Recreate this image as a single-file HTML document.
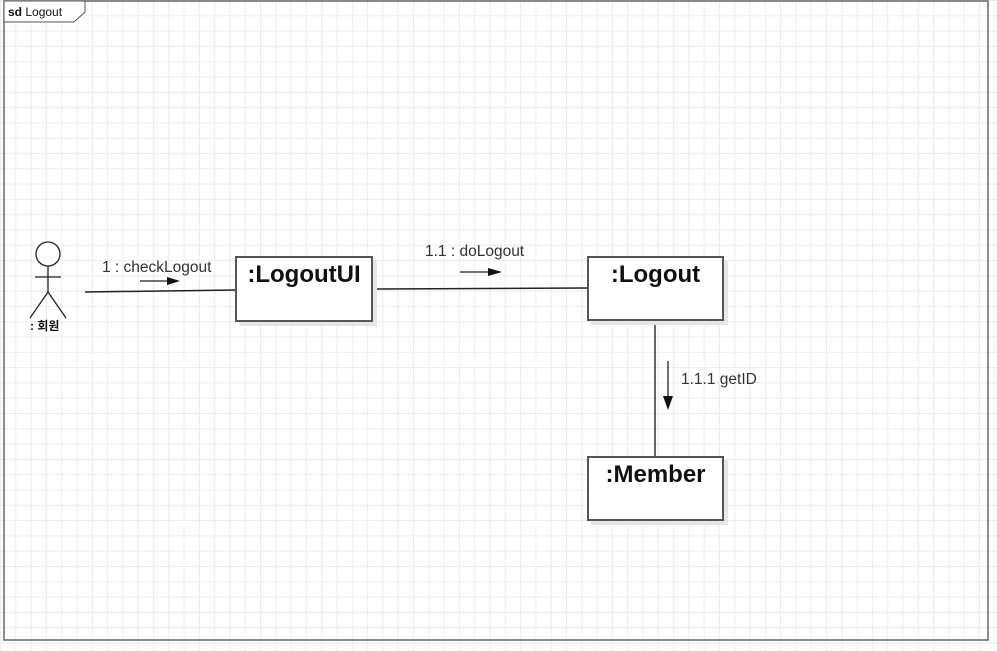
<!DOCTYPE html>
<html><head><meta charset="utf-8"><style>
html,body{margin:0;padding:0;}
body{width:997px;height:651px;position:relative;overflow:hidden;background:#fff;
background-image:linear-gradient(#ececec 1px,transparent 1px),linear-gradient(90deg,#ececec 1px,transparent 1px);
background-size:15.3px 15.3px;background-position:0 0;font-family:"Liberation Sans",Arial,sans-serif;}
.box{position:absolute;border:2px solid #555;background:#fff;box-shadow:4px 4px 0 #e6e6e6;box-sizing:border-box;text-align:center;font-weight:bold;font-size:24px;color:#111;}
.lbl{position:absolute;font-size:15.5px;color:#333;}
</style></head><body>
<svg width="997" height="651" style="position:absolute;left:0;top:0">
<rect x="4" y="1" width="984" height="639" fill="none" stroke="#666" stroke-width="1.5"/>
<path d="M4 1 H85 V12 L74 22 H4 Z" fill="#fff" stroke="#555" stroke-width="1"/>
<text x="8" y="16" font-size="12" font-family="Liberation Sans" fill="#111"><tspan font-weight="bold">sd</tspan> Logout</text>
<circle cx="48" cy="254" r="12" fill="#fff" stroke="#222" stroke-width="1.3"/>
<line x1="48" y1="266" x2="48" y2="292" stroke="#222" stroke-width="1.3"/>
<line x1="35" y1="277" x2="61" y2="277" stroke="#222" stroke-width="1.3"/>
<line x1="48" y1="292" x2="30" y2="318" stroke="#222" stroke-width="1.3"/>
<line x1="48" y1="292" x2="66" y2="318" stroke="#222" stroke-width="1.3"/>
<text x="30" y="330" font-size="12" font-weight="bold" font-family="Liberation Sans,Noto Sans CJK KR,sans-serif" fill="#111">: 회원</text>
<line x1="85" y1="292" x2="236" y2="290" stroke="#222" stroke-width="1.5"/>
<line x1="373" y1="289" x2="588" y2="288" stroke="#222" stroke-width="1.5"/>
<line x1="655" y1="320" x2="655" y2="457" stroke="#333" stroke-width="1.5"/>
<line x1="140" y1="281" x2="170" y2="281" stroke="#222" stroke-width="1.3"/>
<path d="M167 277 L180 281 L167 285 Z" fill="#111"/>
<line x1="460" y1="272" x2="490" y2="272" stroke="#222" stroke-width="1.3"/>
<path d="M488 268 L502 272 L488 276 Z" fill="#111"/>
<line x1="668" y1="361" x2="668" y2="398" stroke="#222" stroke-width="1.3"/>
<path d="M663 396 L668 410 L673 396 Z" fill="#111"/>
</svg>
<div class="lbl" style="left:102px;top:259px">1 : checkLogout</div>
<div class="lbl" style="left:425px;top:243px">1.1 : doLogout</div>
<div class="lbl" style="left:681px;top:371px">1.1.1 getID</div>
<div class="box" style="left:235px;top:256px;width:138px;height:66px;padding-top:3px">:LogoutUI</div>
<div class="box" style="left:587px;top:256px;width:137px;height:65px;padding-top:3px">:Logout</div>
<div class="box" style="left:587px;top:456px;width:137px;height:65px;padding-top:3px">:Member</div>
</body></html>
